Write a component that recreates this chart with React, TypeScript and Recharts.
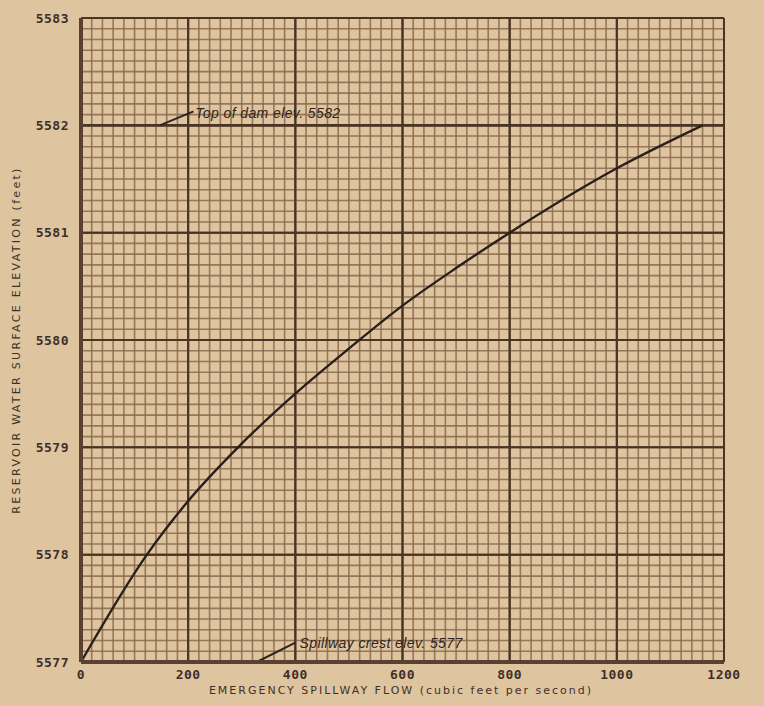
import {
  CartesianGrid,
  Line,
  LineChart,
  ReferenceDot,
  ReferenceLine,
  XAxis,
  YAxis,
} from "recharts";

// values
const flow = [0, 123, 200, 293, 400, 500, 600, 700, 800, 1000, 1160];
const elevation = [5577, 5578, 5578.5, 5579, 5579.5, 5579.92, 5580.32, 5580.67, 5581, 5581.6, 5582];

const xTicks = [0, 200, 400, 600, 800, 1000, 1200];
const yTicks = [5577, 5578, 5579, 5580, 5581, 5582, 5583];

// graph paper minor divisions: 20 cfs and 0.1 ft
const minorX = Array.from({ length: 61 }, (_, i) => i * 20).filter((v) => v % 200 !== 0);
const minorY = Array.from({ length: 61 }, (_, i) => Math.round((5577 + i * 0.1) * 10) / 10).filter(
  (v) => Math.abs(v - Math.round(v)) > 0.01
);

const damLeader = [
  { x: 147, y: 5582 },
  { x: 210, y: 5582.13 },
];
const crestLeader = [
  { x: 328, y: 5577 },
  { x: 400, y: 5577.18 },
];

const data = flow.map((q, i) => ({ flow: q, elev: elevation[i] }));

const PAPER = "#dfc4a0";
const MINOR = "#8a6a4c";
const MAJOR = "#4a3424";
const INK = "#3e3029";

const tickStyle = {
  fill: INK,
  fontSize: 13,
  fontFamily: "DejaVu Sans Mono",
  fontWeight: 600,
  letterSpacing: 0.5,
};

function Note({ viewBox, text }: any) {
  return (
    <text
      x={viewBox.x}
      y={viewBox.y}
      fill="#2e2520"
      fontSize={14}
      fontStyle="italic"
      fontFamily="Liberation Sans"
      letterSpacing={0.4}
    >
      {text}
    </text>
  );
}

function YTitle({ viewBox }: any) {
  const cy = viewBox.y + viewBox.height / 2;
  return (
    <text
      x={20}
      y={cy}
      transform={`rotate(-90 20 ${cy})`}
      textAnchor="middle"
      fill={INK}
      fontSize={11}
      fontFamily="DejaVu Sans"
      letterSpacing={2.3}
    >
      RESERVOIR WATER SURFACE ELEVATION (feet)
    </text>
  );
}

function XTitle() {
  return (
    <text x={401} y={694} textAnchor="middle" fill={INK} fontSize={11} fontFamily="DejaVu Sans" letterSpacing={2}>
      EMERGENCY SPILLWAY FLOW (cubic feet per second)
    </text>
  );
}

export default function App() {
  return (
    <div style={{ position: "absolute", left: 0, top: 0, width: 764, height: 706, background: PAPER }}>
      <LineChart width={764} height={706} data={data} margin={{ top: 18, right: 40, left: 0, bottom: 0 }}>
        <CartesianGrid stroke={MAJOR} strokeWidth={2} />
        {minorX.map((v) => (
          <ReferenceLine key={"mx" + v} x={v} stroke={MINOR} strokeWidth={1.6} strokeOpacity={0.85} />
        ))}
        {minorY.map((v) => (
          <ReferenceLine key={"my" + v} y={v} stroke={MINOR} strokeWidth={1.6} strokeOpacity={0.85} />
        ))}
        {xTicks.map((v) => (
          <ReferenceLine key={"Mx" + v} x={v} stroke={MAJOR} strokeWidth={2} />
        ))}
        {yTicks.map((v) => (
          <ReferenceLine key={"My" + v} y={v} stroke={MAJOR} strokeWidth={v === 5582 ? 2.6 : 2} />
        ))}
        <XAxis
          dataKey="flow"
          type="number"
          domain={[0, 1200]}
          ticks={xTicks}
          height={44}
          tickLine={false}
          axisLine={{ stroke: "#5a4030", strokeWidth: 4 }}
          tick={tickStyle}
          tickMargin={2}
          label={(p: any) => <XTitle {...p} />}
        />
        <YAxis
          type="number"
          domain={[5577, 5583]}
          ticks={yTicks}
          width={81}
          tickLine={false}
          axisLine={{ stroke: "#5a4030", strokeWidth: 4 }}
          tick={tickStyle}
          tickMargin={6}
          label={(p: any) => <YTitle {...p} />}
        />
        <ReferenceLine segment={damLeader} stroke="#2e2520" strokeWidth={2} ifOverflow="visible" />
        <ReferenceLine segment={crestLeader} stroke="#2e2520" strokeWidth={2} ifOverflow="visible" />
        <ReferenceDot
          x={213}
          y={5582.07}
          r={0}
          ifOverflow="visible"
          label={(p: any) => <Note {...p} text="Top of dam elev. 5582" />}
        />
        <ReferenceDot
          x={408}
          y={5577.13}
          r={0}
          ifOverflow="visible"
          label={(p: any) => <Note {...p} text="Spillway crest elev. 5577" />}
        />
        <Line
          dataKey="elev"
          type="monotone"
          stroke="#2a1f1a"
          strokeWidth={2.4}
          dot={false}
          isAnimationActive={false}
        />
      </LineChart>
    </div>
  );
}
